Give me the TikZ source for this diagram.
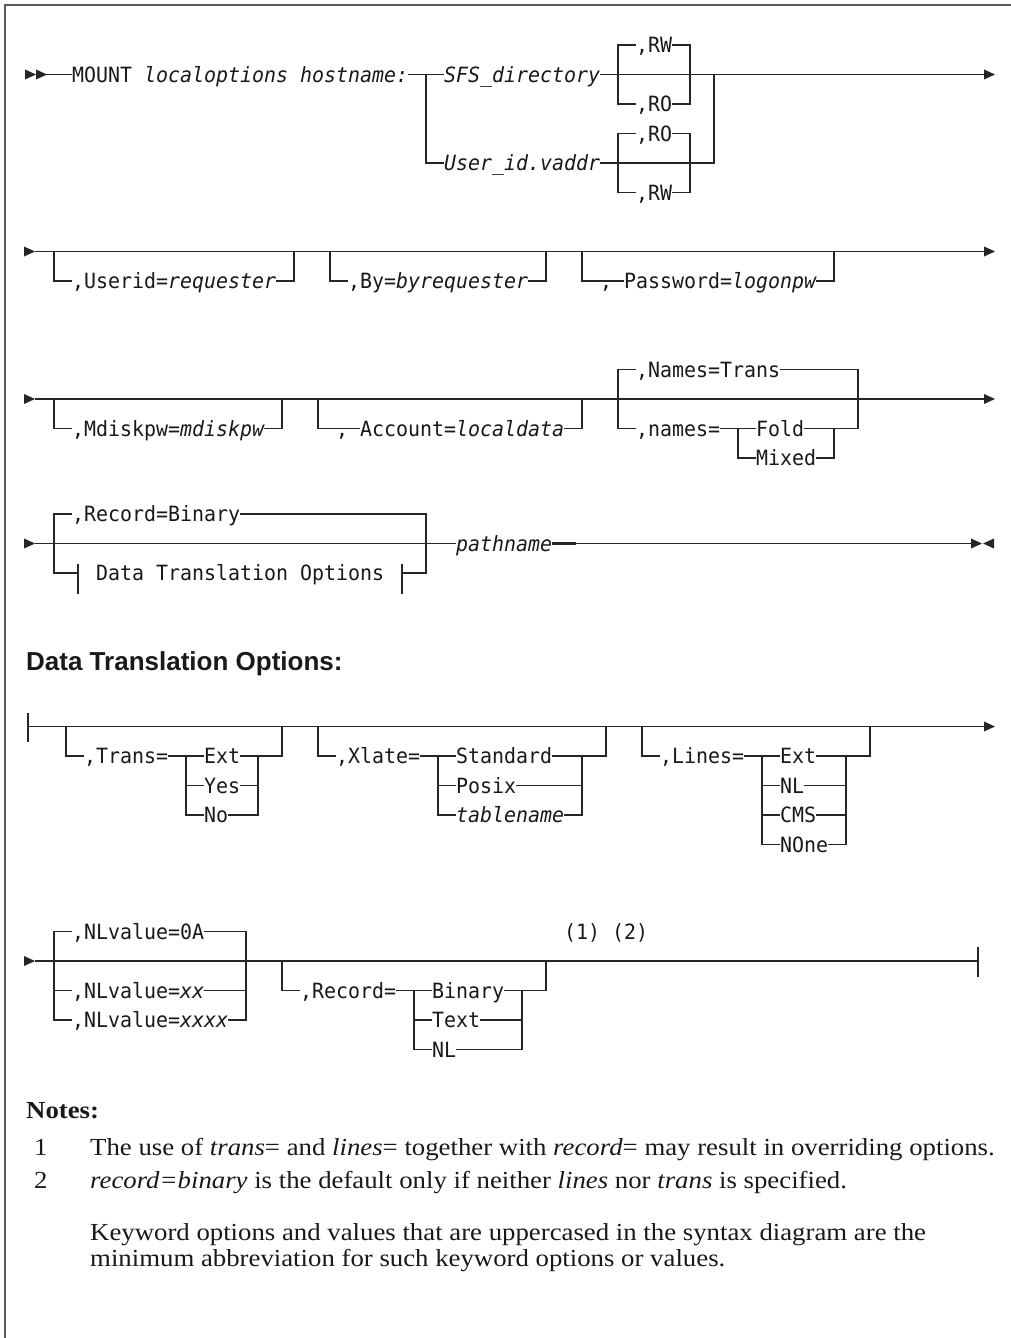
\documentclass[tikz,border=0pt]{standalone}
\usepackage{fontspec}
\newfontfamily\dmono[FakeStretch=0.9491]{DejaVu Sans Mono}
\newfontfamily\nserif[FakeStretch=1.093]{Liberation Serif}
\newfontfamily\hsans{Liberation Sans}
\newcommand\gx[1]{12*(#1)+6}
\newcommand\gl[1]{12*(#1)}
\newcommand\gy[1]{15.5+29.5*(#1)}
\newcommand\ya[1]{12.5+29.5*(#1)}
\newcommand\yb[1]{18.5+29.5*(#1)}
\newcommand\yc[1]{17+29.5*(#1)}
\newcommand\rtri[2]{\fill[black!85] ({#1},{#2-5}) -- ({#1+11},{#2}) -- ({#1},{#2+5}) -- cycle;}
\newcommand\ltri[2]{\fill[black!85] ({#1},{#2-5}) -- ({#1-11},{#2}) -- ({#1},{#2+5}) -- cycle;}
\tikzset{
 ln/.style={line width=1.3pt, draw=black!85},
 thick dash/.style={line width=2.6pt, draw=black!85},
 kw/.style={font=\dmono\fontsize{21}{25}\selectfont, inner xsep=0pt, inner ysep=0.6pt, fill=white, anchor=base west, text=black!90},
 ref/.style={kw, fill=none},
 note/.style={font=\nserif\fontsize{24.5}{29}\selectfont, inner sep=0pt, anchor=base west, text=black!90},
 head/.style={font=\hsans\bfseries\fontsize{26}{30}\selectfont, inner sep=0pt, anchor=base west, text=black!90},
 frm/.style={line width=1.6pt, draw=black!65}
}
\begin{document}
\begin{tikzpicture}[x=1pt,y=-1pt]
\useasboundingbox (0,0) rectangle (1011,1338);
\draw[frm] (5,1338) -- (5,5) -- (1011,5);

% ---------- Row 1 ----------
\draw[ln] (36,{\gy{2}}) -- (984,{\gy{2}});
\draw[ln] ({\gx{35}},{\gy{2}}) |- ({\gx{59}},{\gy{5}}) -- ({\gx{59}},{\gy{2}});
\draw[ln] ({\gx{51}},{\gy{1}}) rectangle ({\gx{57}},{\gy{3}});
\draw[ln] ({\gx{51}},{\gy{4}}) rectangle ({\gx{57}},{\gy{6}});
\rtri{25}{\gy{2}} \rtri{36}{\gy{2}} \rtri{984}{\gy{2}}
\node[kw] (mount) at ({\gl{6}},{\gy{2}+7.6}) {MOUNT {\itshape localoptions hostname:}};
\node[kw] (sfs) at ({\gl{37}},{\gy{2}+7.6}) {\itshape SFS\_directory};
\node[kw] (rw1) at ({\gl{53}},{\gy{1}+7.6}) {,RW};
\node[kw] (ro1) at ({\gl{53}},{\gy{3}+7.6}) {,RO};
\node[kw] (ro2) at ({\gl{53}},{\gy{4}+7.6}) {,RO};
\node[kw] (user) at ({\gl{37}},{\gy{5}+7.6}) {\itshape User\_id.vaddr};
\node[kw] (rw2) at ({\gl{53}},{\gy{6}+7.6}) {,RW};

% ---------- Row 2 ----------
\draw[ln] (35,{\gy{8}}) -- (984,{\gy{8}});
\rtri{24}{\gy{8}} \rtri{984}{\gy{8}}
\draw[ln] ({\gx{4}},{\gy{8}}) |- ({\gx{24}},{\gy{9}}) -- ({\gx{24}},{\gy{8}});
\draw[ln] ({\gx{27}},{\gy{8}}) |- ({\gx{45}},{\gy{9}}) -- ({\gx{45}},{\gy{8}});
\draw[ln] ({\gx{48}},{\gy{8}}) |- ({\gx{69}},{\gy{9}}) -- ({\gx{69}},{\gy{8}});
\node[kw] (userid) at ({\gl{6}},{\gy{9}+7.6}) {,Userid={\itshape requester}};
\node[kw] (by) at ({\gl{29}},{\gy{9}+7.6}) {,By={\itshape byrequester}};
\node[kw] (pwc) at ({\gl{50}},{\gy{9}+7.6}) {,};
\node[kw] (pw) at ({\gl{52}},{\gy{9}+7.6}) {Password={\itshape logonpw}};

% ---------- Row 3 ----------
\draw[ln] (35,{\gy{13}}) -- (984,{\gy{13}});
\rtri{24}{\gy{13}} \rtri{984}{\gy{13}}
\draw[ln] ({\gx{4}},{\gy{13}}) |- ({\gx{23}},{\gy{14}}) -- ({\gx{23}},{\gy{13}});
\draw[ln] ({\gx{26}},{\gy{13}}) |- ({\gx{48}},{\gy{14}}) -- ({\gx{48}},{\gy{13}});
\draw[ln] ({\gx{51}},{\gy{12}}) rectangle ({\gx{71}},{\gy{14}});
\draw[ln] ({\gx{61}},{\gy{14}}) |- ({\gx{69}},{\gy{15}}) -- ({\gx{69}},{\gy{14}});
\node[kw] (mdisk) at ({\gl{6}},{\gy{14}+7.6}) {,Mdiskpw={\itshape mdiskpw}};
\node[kw] (accc) at ({\gl{28}},{\gy{14}+7.6}) {,};
\node[kw] (acc) at ({\gl{30}},{\gy{14}+7.6}) {Account={\itshape localdata}};
\node[kw] (namesT) at ({\gl{53}},{\gy{12}+7.6}) {,Names=Trans};
\node[kw] (namesb) at ({\gl{53}},{\gy{14}+7.6}) {,names=};
\node[kw] (fold) at ({\gl{63}},{\gy{14}+7.6}) {Fold};
\node[kw] (mixed) at ({\gl{63}},{\gy{15}+7.6}) {Mixed};

% ---------- Row 4 ----------
\draw[ln] (35,{\ya{18}}) -- (972,{\ya{18}});
\rtri{24}{\ya{18}} \rtri{971}{\ya{18}} \ltri{994}{\ya{18}}
\draw[ln] ({\gx{6}},{\ya{19}}) -- ({\gx{4}},{\ya{19}}) -- ({\gx{4}},{\ya{17}}) -- ({\gx{35}},{\ya{17}}) -- ({\gx{35}},{\ya{19}}) -- ({\gx{33}},{\ya{19}});
\draw[ln] ({\gx{6}},{\ya{19}-9}) -- ({\gx{6}},{\ya{19}+21});
\draw[ln] ({\gx{33}},{\ya{19}-9}) -- ({\gx{33}},{\ya{19}+21});
\draw[thick dash] (552,{\ya{18}}) -- (576,{\ya{18}});
\node[kw] (recbin) at ({\gl{6}},{\ya{17}+7.6}) {,Record=Binary};
\node[kw] (dto) at ({\gl{8}},{\ya{19}+7.6}) {Data Translation Options};
\node[kw] (path) at ({\gl{38}},{\ya{18}+7.6}) {\itshape pathname};

% ---------- Heading ----------
\node[head] (heading) at (26,670) {Data Translation Options:};

% ---------- Row 5 ----------
\draw[ln] (28,{\yb{24}-14}) -- (28,{\yb{24}+15});
\draw[ln] (28,{\yb{24}}) -- (984,{\yb{24}});
\rtri{984}{\yb{24}}
\draw[ln] ({\gx{5}},{\yb{24}}) |- ({\gx{23}},{\yb{25}}) -- ({\gx{23}},{\yb{24}});
\draw[ln] ({\gx{15}},{\yb{25}}) |- ({\gx{21}},{\yb{27}}) -- ({\gx{21}},{\yb{25}});
\draw[ln] ({\gx{15}},{\yb{26}}) -- ({\gx{21}},{\yb{26}});
\node[kw] (trans) at ({\gl{7}},{\yb{25}+7.6}) {,Trans=};
\node[kw] (text1) at ({\gl{17}},{\yb{25}+7.6}) {Ext};
\node[kw] (tyes) at ({\gl{17}},{\yb{26}+7.6}) {Yes};
\node[kw] (tno) at ({\gl{17}},{\yb{27}+7.6}) {No};
\draw[ln] ({\gx{26}},{\yb{24}}) |- ({\gx{50}},{\yb{25}}) -- ({\gx{50}},{\yb{24}});
\draw[ln] ({\gx{36}},{\yb{25}}) |- ({\gx{48}},{\yb{27}}) -- ({\gx{48}},{\yb{25}});
\draw[ln] ({\gx{36}},{\yb{26}}) -- ({\gx{48}},{\yb{26}});
\node[kw] (xlate) at ({\gl{28}},{\yb{25}+7.6}) {,Xlate=};
\node[kw] (xstd) at ({\gl{38}},{\yb{25}+7.6}) {Standard};
\node[kw] (xpos) at ({\gl{38}},{\yb{26}+7.6}) {Posix};
\node[kw] (xtab) at ({\gl{38}},{\yb{27}+7.6}) {\itshape tablename};
\draw[ln] ({\gx{53}},{\yb{24}}) |- ({\gx{72}},{\yb{25}}) -- ({\gx{72}},{\yb{24}});
\draw[ln] ({\gx{63}},{\yb{25}}) |- ({\gx{70}},{\yb{28}}) -- ({\gx{70}},{\yb{25}});
\draw[ln] ({\gx{63}},{\yb{26}}) -- ({\gx{70}},{\yb{26}});
\draw[ln] ({\gx{63}},{\yb{27}}) -- ({\gx{70}},{\yb{27}});
\node[kw] (lines) at ({\gl{55}},{\yb{25}+7.6}) {,Lines=};
\node[kw] (lext) at ({\gl{65}},{\yb{25}+7.6}) {Ext};
\node[kw] (lnl) at ({\gl{65}},{\yb{26}+7.6}) {NL};
\node[kw] (lcms) at ({\gl{65}},{\yb{27}+7.6}) {CMS};
\node[kw] (lnone) at ({\gl{65}},{\yb{28}+7.6}) {NOne};

% ---------- Row 6 ----------
\draw[ln] (35,{\yc{32}}) -- ({\gx{81}},{\yc{32}});
\draw[ln] ({\gx{81}},{\yc{32}-14}) -- ({\gx{81}},{\yc{32}+16});
\rtri{24}{\yc{32}}
\draw[ln] ({\gx{4}},{\yc{31}}) rectangle ({\gx{20}},{\yc{34}});
\draw[ln] ({\gx{4}},{\yc{33}}) -- ({\gx{20}},{\yc{33}});
\node[kw] (nl0a) at ({\gl{6}},{\yc{31}+7.6}) {,NLvalue=0A};
\node[kw] (nlxx) at ({\gl{6}},{\yc{33}+7.6}) {,NLvalue={\itshape xx}};
\node[kw] (nlxxxx) at ({\gl{6}},{\yc{34}+7.6}) {,NLvalue={\itshape xxxx}};
\draw[ln] ({\gx{23}},{\yc{32}}) |- ({\gx{45}},{\yc{33}}) -- ({\gx{45}},{\yc{32}});
\draw[ln] ({\gx{34}},{\yc{33}}) |- ({\gx{43}},{\yc{35}}) -- ({\gx{43}},{\yc{33}});
\draw[ln] ({\gx{34}},{\yc{34}}) -- ({\gx{43}},{\yc{34}});
\node[kw] (rec) at ({\gl{25}},{\yc{33}+7.6}) {,Record=};
\node[kw] (rbin) at ({\gl{36}},{\yc{33}+7.6}) {Binary};
\node[kw] (rtext) at ({\gl{36}},{\yc{34}+7.6}) {Text};
\node[kw] (rnl) at ({\gl{36}},{\yc{35}+7.6}) {NL};
\node[ref] (fn) at ({\gl{47}},{\yc{31}+7.6}) {(1) (2)};
\draw[thick dash] (648,{\yc{32}}) -- (672,{\yc{32}});

% ---------- Notes ----------
\node[note] (notes) at (26,1118) {\bfseries Notes:};
\node[note] (n1num) at (34,1155) {1};
\node[note] (n1) at (90,1155) {The use of \textit{trans}= and \textit{lines}= together with \textit{record}= may result in overriding options.};
\node[note] (n2num) at (34,1188) {2};
\node[note] (n2) at (90,1188) {\textit{record=binary} is the default only if neither \textit{lines} nor \textit{trans} is specified.};
\node[note] (kw1) at (90,1240) {Keyword options and values that are uppercased in the syntax diagram are the};
\node[note] (kw2) at (90,1266) {minimum abbreviation for such keyword options or values.};
\end{tikzpicture}
\end{document}
